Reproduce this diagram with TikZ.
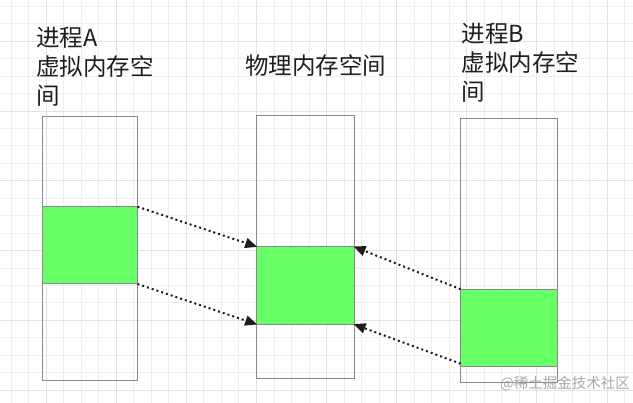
\documentclass[tikz,border=0pt]{standalone}
\usepackage{fontspec}
\setmainfont{Noto Sans CJK SC}
\usetikzlibrary{arrows.meta}
\definecolor{gridminor}{HTML}{EFEFEF}
\definecolor{gridmajor}{HTML}{E2E2E2}
\definecolor{boxline}{HTML}{8A8A8A}
\definecolor{memgreen}{HTML}{66FF66}
\definecolor{txt}{HTML}{1E1E1E}
\definecolor{wm}{HTML}{A8A8A8}
\tikzset{
  minorline/.style={draw=gridminor, line width=0.9pt},
  majorline/.style={draw=gridmajor, line width=0.9pt},
  membox/.style={draw=boxline, line width=1pt, rectangle, inner sep=0pt, outer sep=0pt, anchor=north west, minimum width=#1},
  greenbox/.style={draw=boxline, line width=1pt, fill=memgreen, rectangle, inner sep=0pt, outer sep=0pt, anchor=north west, minimum width=#1},
  label/.style={anchor=north west, align=left, inner sep=0pt, text=txt, font=\fontsize{23.5}{28.8}\selectfont},
  maplink/.style={draw=txt, line width=2pt, dash pattern=on 2pt off 3pt, -{Triangle[length=12pt,width=10pt]}, shorten >=-0.5pt},
}
\begin{document}
\begin{tikzpicture}[x=1pt,y=-1pt]
\useasboundingbox (0,0) rectangle (633,403);
\fill[white] (0,0) rectangle (633,403);
% grid
\foreach \i in {0,...,35} {
  \pgfmathtruncatemacro{\m}{mod(\i,4)}
  \ifnum\m=2
    \draw[majorline] ({11+17.53*\i},0) -- ({11+17.53*\i},403);
  \else
    \draw[minorline] ({11+17.53*\i},0) -- ({11+17.53*\i},403);
  \fi
}
\foreach \j in {0,...,22} {
  \pgfmathtruncatemacro{\m}{mod(\j,4)}
  \ifnum\m=2
    \draw[majorline] (0,{6.3+17.45*\j}) -- (633,{6.3+17.45*\j});
  \else
    \draw[minorline] (0,{6.3+17.45*\j}) -- (633,{6.3+17.45*\j});
  \fi
}
% labels
\node[label] (labA) at (36.3,27.3) {进程A\\虚拟内存空\\间};
\node[label] (labP) at (245,54) {物理内存空间};
\node[label] (labB) at (461.3,23) {进程B\\虚拟内存空\\间};
% memory columns
\node[membox=95.5pt, minimum height=264pt] (boxA) at (42,117) {};
\node[greenbox=95.5pt, minimum height=77.3pt] (grA) at (42,206.7) {};
\node[membox=97.3pt, minimum height=263pt] (boxP) at (256.7,116) {};
\node[greenbox=97.3pt, minimum height=77.6pt] (grP) at (256.7,246.7) {};
\node[membox=97pt, minimum height=263.6pt] (boxB) at (460.7,118.7) {};
\node[greenbox=97pt, minimum height=77.4pt] (grB) at (460.7,289.3) {};
% mappings
\draw[maplink] (grA.north east) -- (grP.north west);
\draw[maplink] (grA.south east) -- (grP.south west);
\draw[maplink] (grB.north west) -- (grP.north east);
\draw[maplink] ([yshift=3pt]grB.south west) -- (grP.south east);
% watermark
\node[anchor=west, inner sep=0pt, text=wm, font=\fontsize{14.5}{16}\selectfont] (wmark) at (500,383.3) {@稀土掘金技术社区};
\end{tikzpicture}
\end{document}
